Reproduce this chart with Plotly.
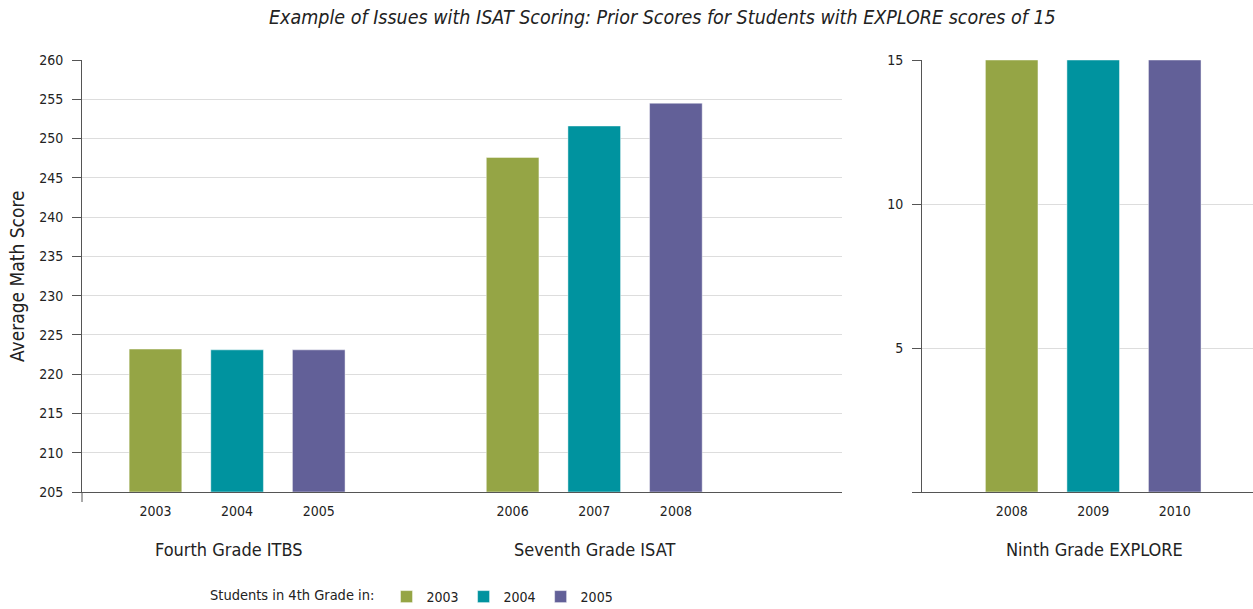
import plotly.graph_objects as go

# ---- data ----
cohorts = ["2003", "2004", "2005"]
fourth_years = ["2003", "2004", "2005"]
seventh_years = ["2006", "2007", "2008"]
ninth_years = ["2008", "2009", "2010"]
fourth_itbs = [223.2, 223.1, 223.1]
seventh_isat = [247.6, 251.6, 254.5]
ninth_explore = [15, 15, 15]
group_labels = ["Fourth Grade ITBS", "Seventh Grade ISAT", "Ninth Grade EXPLORE"]
colors = ["#95A545", "#00939F", "#626098"]

FONT = "Liberation Sans Narrow, DejaVu Sans Condensed, Roboto, Arial, sans-serif"
W, H = 1253, 609
BASE = 205
group_gap = 4.375
bar_w = 0.645

left_pos = [i for i in range(3)] + [i + group_gap for i in range(3)]
left_labels = fourth_years + seventh_years

fig = go.Figure()
for k, c in enumerate(cohorts):
    fig.add_trace(go.Bar(
        x=[left_pos[k], left_pos[k + 3]],
        y=[fourth_itbs[k] - BASE, seventh_isat[k] - BASE],
        base=BASE,
        width=bar_w,
        marker=dict(color=colors[k], line=dict(color="rgba(255,255,255,0.45)", width=1)),
        name=c, legendgroup=c, showlegend=True,
        xaxis="x", yaxis="y",
        hovertemplate="%{y}<extra>" + c + "</extra>",
    ))
    fig.add_trace(go.Bar(
        x=[k], y=[ninth_explore[k]],
        width=bar_w,
        marker=dict(color=colors[k], line=dict(color="rgba(255,255,255,0.45)", width=1)),
        name=c, legendgroup=c, showlegend=False,
        xaxis="x2", yaxis="y2",
    ))

axis_col = "#555555"
grid_col = "#dddddd"
tickfont = dict(family=FONT, size=14, color="#222222")

x0a, x1a = 82 / W, 842 / W
x0b = 922 / W

fig.update_layout(
    width=W, height=H,
    margin=dict(l=0, r=0, t=60, b=117),
    paper_bgcolor="white", plot_bgcolor="white",
    font=dict(family=FONT, color="#222222"),
    barmode="overlay",
    showlegend=True,
    legend=dict(
        orientation="h", x=208 / W, xanchor="left",
        yref="container", y=(H - 597) / H, yanchor="middle",
        title=dict(text="Students in 4th Grade in: ", font=dict(family=FONT, size=14.5, color="#222")),
        font=dict(family=FONT, size=14, color="#222"),
        itemwidth=30, tracegroupgap=0,
    ),
    xaxis=dict(
        domain=[x0a, x1a], range=[-0.90, 8.41],
        tickvals=left_pos, ticktext=left_labels, ticks="",
        showline=True, linecolor=axis_col, linewidth=1, showgrid=False,
        zeroline=False, tickfont=tickfont, anchor="y", ticklabelstandoff=6,
    ),
    yaxis=dict(
        domain=[0, 1], range=[205, 260], dtick=5, tick0=205,
        ticks="outside", ticklen=9, tickcolor=axis_col,
        showline=True, linecolor=axis_col, linewidth=1,
        showgrid=True, gridcolor=grid_col, zeroline=False,
        tickfont=tickfont, anchor="x", ticklabelstandoff=6,
    ),
    xaxis2=dict(
        domain=[x0b, 1], range=[-1.10, 2.96],
        tickvals=[0, 1, 2], ticktext=ninth_years, ticks="",
        showline=True, linecolor=axis_col, linewidth=1, showgrid=False,
        zeroline=False, tickfont=tickfont, anchor="y2", ticklabelstandoff=6,
    ),
    yaxis2=dict(
        domain=[0, 1], range=[0, 15],
        tickvals=[0, 5, 10, 15], ticktext=["", "5", "10", "15"],
        ticks="outside", ticklen=9, tickcolor=axis_col,
        showline=True, linecolor=axis_col, linewidth=1,
        showgrid=True, gridcolor=grid_col, zeroline=False,
        tickfont=tickfont, anchor="x2", ticklabelstandoff=6,
    ),
)

# y-axis extension below the baseline on the left chart
fig.add_shape(type="line", xref="x domain", yref="paper",
              x0=0, x1=0, y0=0, y1=-10 / 432,
              line=dict(color=axis_col, width=1))

annots = [
    dict(text="<i>Example of Issues with ISAT Scoring: Prior Scores for Students with EXPLORE scores of 15</i>",
         x=662 / W, y=1 + (60 - 18) / 432, size=19.5),
    dict(text="Average Math Score", x=17 / W, y=0.5, size=19, angle=-90),
    dict(text=group_labels[0], x=229 / W, y=-(549 - 492) / 432, size=18),
    dict(text=group_labels[1], x=594 / W, y=-(549 - 492) / 432, size=18),
    dict(text=group_labels[2], x=1094 / W, y=-(549 - 492) / 432, size=18),
]
for a in annots:
    fig.add_annotation(xref="paper", yref="paper", showarrow=False,
                       xanchor="center", yanchor="middle",
                       font=dict(family=FONT, color="#222222", size=a["size"]),
                       text=a["text"], x=a["x"], y=a["y"],
                       textangle=a.get("angle", 0))

fig.write_html("out.html", config={"displayModeBar": False},
               post_script="document.body.style.margin='0';")
